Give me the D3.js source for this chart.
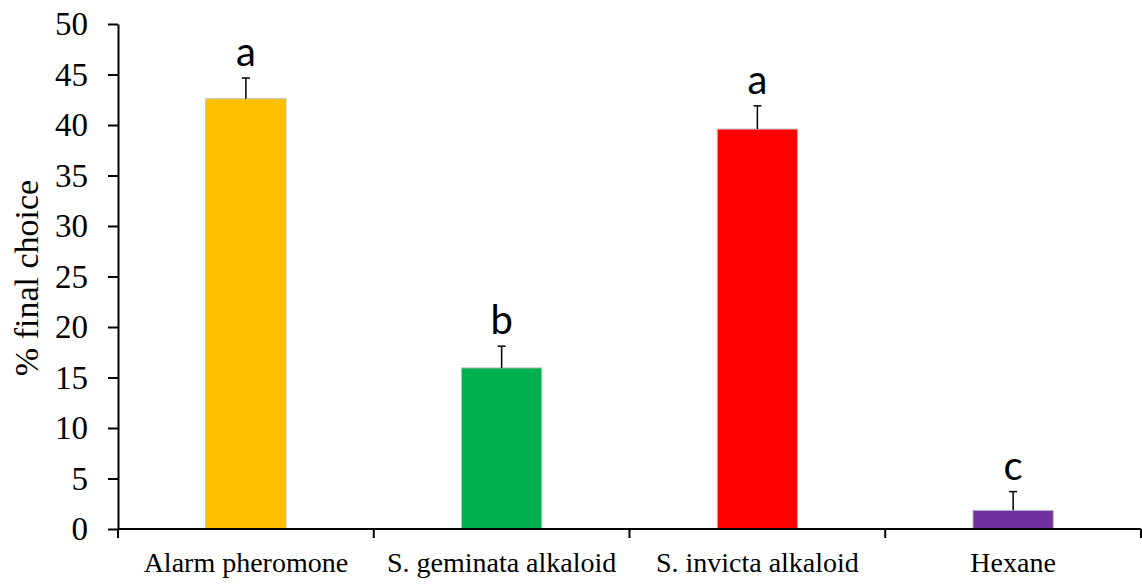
<!DOCTYPE html>
<html>
<head>
<meta charset="utf-8">
<script src="https://cdn.jsdelivr.net/npm/d3@7"></script>
<style>
  html, body { margin: 0; padding: 0; background: #fff; }
  svg { display: block; }
</style>
</head>
<body>
<svg id="chart" width="1142" height="586"></svg>
<script>
// Treatments and their mean % final choice with upper standard error
const categories = ["Alarm pheromone", "S. geminata alkaloid", "S. invicta alkaloid", "Hexane"];
const means = [42.6, 15.95, 39.6, 1.85];
const errors = [2.05, 2.15, 2.3, 1.85];
const letters = ["a", "b", "a", "c"];
const colors = ["#FFC000", "#00B050", "#FF0000", "#7030A0"];
const yTicks = [0, 5, 10, 15, 20, 25, 30, 35, 40, 45, 50];

const svg = d3.select("#chart");
const margin = { left: 118, right: 1141, top: 24, bottom: 529 };
const serif = "Liberation Serif";

const x = d3.scaleBand()
  .domain(categories)
  .range([margin.left, margin.right])
  .paddingInner(0)
  .paddingOuter(0);

const y = d3.scaleLinear()
  .domain([0, 50])
  .range([margin.bottom, margin.top]);

const barW = x.bandwidth() * 0.314;

// Bars
svg.append("g")
  .selectAll("rect")
  .data(categories)
  .join("rect")
  .attr("x", (d) => x(d) + x.bandwidth() / 2 - barW / 2)
  .attr("y", (d, i) => y(means[i]))
  .attr("width", barW)
  .attr("height", (d, i) => y(0) - y(means[i]))
  .attr("fill", (d, i) => colors[i])
  .attr("stroke", "#bfbfbf")
  .attr("stroke-width", 1);

// Upper error bars
const err = svg.append("g").attr("stroke", "#000").attr("stroke-width", 1.5);
categories.forEach((c, i) => {
  const cx = x(c) + x.bandwidth() / 2;
  err.append("line")
    .attr("x1", cx).attr("x2", cx)
    .attr("y1", y(means[i])).attr("y2", y(means[i] + errors[i]));
  err.append("line")
    .attr("x1", cx - 4).attr("x2", cx + 4)
    .attr("y1", y(means[i] + errors[i])).attr("y2", y(means[i] + errors[i]));
});

// Significance letters
svg.append("g")
  .selectAll("text")
  .data(categories)
  .join("text")
  .attr("x", (d) => x(d) + x.bandwidth() / 2)
  .attr("y", (d, i) => y(means[i] + errors[i]) - 12)
  .attr("text-anchor", "middle")
  .style("font-family", "Lato, 'Open Sans', sans-serif")
  .style("font-size", "40px")
  .attr("fill", "#000")
  .text((d, i) => letters[i]);

// Y axis
const yAxis = d3.axisLeft(y).tickValues(yTicks).tickSize(10).tickPadding(8).tickSizeOuter(0);
const gy = svg.append("g")
  .attr("transform", `translate(${margin.left},0)`)
  .call(yAxis)
  .attr("font-family", null)
  .attr("font-size", null);
gy.select(".domain").attr("stroke", "#000").attr("stroke-width", 2);
gy.selectAll(".tick line").attr("stroke", "#000").attr("stroke-width", 2);
gy.selectAll(".tick text")
  .style("font-family", serif)
  .style("font-size", "33px")
  .attr("fill", "#000")
  .attr("x", -30);

// X axis with ticks at category boundaries
const gx = svg.append("g")
  .attr("transform", `translate(0,${margin.bottom})`);
gx.append("line")
  .attr("x1", margin.left).attr("x2", margin.right)
  .attr("stroke", "#000").attr("stroke-width", 2);
const bounds = categories.map((c) => x(c)).concat([margin.right]);
gx.selectAll(".bt")
  .data(bounds)
  .join("line")
  .attr("class", "bt")
  .attr("x1", (d) => d).attr("x2", (d) => d)
  .attr("y1", 0).attr("y2", 9)
  .attr("stroke", "#000").attr("stroke-width", 2);
gx.selectAll("text")
  .data(categories)
  .join("text")
  .attr("x", (d) => x(d) + x.bandwidth() / 2)
  .attr("y", 43)
  .attr("text-anchor", "middle")
  .style("font-family", serif)
  .style("font-size", "28px")
  .attr("fill", "#000")
  .text((d) => d);

// Y axis title
svg.append("text")
  .attr("transform", `translate(38,278) rotate(-90)`)
  .attr("text-anchor", "middle")
  .style("font-family", serif)
  .style("font-size", "34px")
  .attr("fill", "#000")
  .text("% final choice");
</script>
</body>
</html>
